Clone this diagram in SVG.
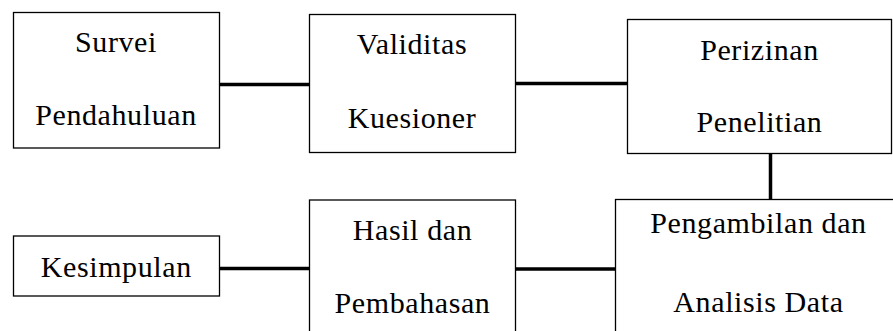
<svg xmlns="http://www.w3.org/2000/svg" width="893" height="331" viewBox="0 0 893 331">
<style>
.box{fill:#fff;stroke:#000;stroke-width:1.3}
.c{stroke:#000;stroke-width:3.5;fill:none}
</style>
<rect width="893" height="331" fill="#fff"/>
<g id="connectors">
<line class="c" x1="219" y1="84.5" x2="310" y2="84.5"/>
<line class="c" x1="515" y1="83.5" x2="628" y2="83.5"/>
<line class="c" x1="770.5" y1="153" x2="770.5" y2="200"/>
<line class="c" x1="515" y1="269" x2="615" y2="269"/>
<line class="c" x1="219" y1="268.5" x2="309" y2="268.5"/>
</g>
<g font-family="Liberation Serif" font-size="30" text-anchor="middle" letter-spacing="0.6" fill="#000">
<g id="survei">
<rect class="box" x="13.5" y="12.5" width="206" height="135.5"/>
<text x="116" y="51.7">Survei</text>
<text x="116" y="125">Pendahuluan</text>
</g>
<g id="validitas">
<rect class="box" x="309.5" y="14.5" width="206" height="138"/>
<text x="412" y="54.3">Validitas</text>
<text x="412" y="128.3">Kuesioner</text>
</g>
<g id="perizinan">
<rect class="box" x="627.5" y="19.5" width="264" height="134"/>
<text x="759.5" y="60">Perizinan</text>
<text x="759.5" y="131.7">Penelitian</text>
</g>
<g id="pengambilan">
<rect class="box" x="615.5" y="199.5" width="300" height="200"/>
<text x="758.5" y="233.3">Pengambilan dan</text>
<text x="758.5" y="311.7">Analisis Data</text>
</g>
<g id="hasil">
<rect class="box" x="309.5" y="200" width="206" height="200"/>
<text x="412.5" y="240">Hasil dan</text>
<text x="412.5" y="313.3">Pembahasan</text>
</g>
<g id="kesimpulan">
<rect class="box" x="13.5" y="236" width="206" height="60"/>
<text x="116.3" y="276.7">Kesimpulan</text>
</g>
</g>
</svg>
